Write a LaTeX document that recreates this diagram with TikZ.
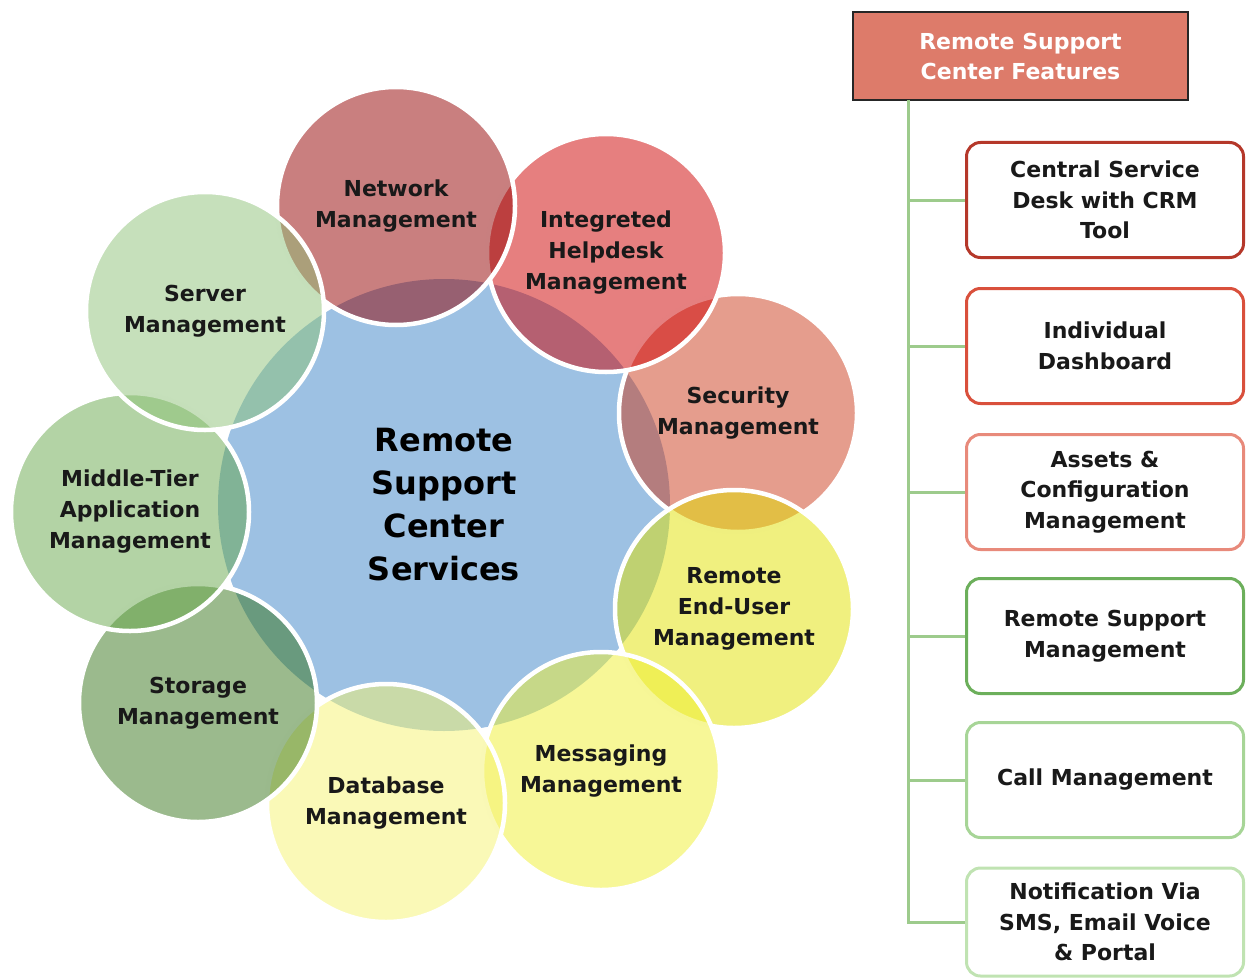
\documentclass[tikz,border=0pt]{standalone}
\usepackage{fontspec}
\setmainfont{DejaVu Sans}
\usepackage{tikz}

\definecolor{hubblue}{HTML}{9DC1E3}
\definecolor{netred}{HTML}{930000}
\definecolor{helpred}{HTML}{CD0000}
\definecolor{secred}{HTML}{CB3B1B}
\definecolor{userylw}{HTML}{E1E100}
\definecolor{msgylw}{HTML}{EFEF2F}
\definecolor{dbylw}{HTML}{F5F36F}
\definecolor{storgrn}{HTML}{37751B}
\definecolor{midgrn}{HTML}{67A74B}
\definecolor{srvgrn}{HTML}{8DC177}
\definecolor{headfill}{HTML}{DD7B6A}
\definecolor{stemgrn}{HTML}{9DCB8C}
\definecolor{deskline}{HTML}{B5382A}
\definecolor{dashline}{HTML}{D9503C}
\definecolor{assetline}{HTML}{E88A7B}
\definecolor{suppline}{HTML}{6CAF5B}
\definecolor{callline}{HTML}{A7D597}
\definecolor{notiline}{HTML}{C0E3B2}

\begin{document}
\begin{tikzpicture}[x=1pt,y=-1pt,
  hub/.style={circle,minimum size=452pt,inner sep=0pt,fill=hubblue,align=center,
    font=\bfseries\fontsize{32}{43}\selectfont},
  svc/.style={circle,minimum size=238pt,inner sep=0pt,draw=white,line width=4.5pt,
    fill opacity=0.5,text opacity=1,align=center,text=black!90,
    font=\bfseries\fontsize{22}{31}\selectfont},
  head/.style={rectangle,minimum width=335pt,minimum height=88pt,fill=headfill,
    draw=black!85,line width=2pt,text=white,align=center,
    font=\bfseries\fontsize{22}{30}\selectfont},
  feat/.style={rectangle,rounded corners=14pt,minimum width=277pt,minimum height=115pt,
    line width=3pt,fill=white,align=center,text=black!90,
    font=\bfseries\fontsize{22}{30.5}\selectfont},
  stem/.style={draw=stemgrn,line width=3pt}]
\useasboundingbox (0,0) rectangle (1247,979);

\node[hub] (rsc) at (444,505) {Remote\\Support\\Center\\Services};

\node[svc,fill=secred] (security) at (738,413) {Security\\Management};
\node[svc,fill=helpred] (helpdesk) at (606,253) {Integreted\\Helpdesk\\Management};
\node[svc,fill=netred] (network) at (396,206) {Network\\Management};
\node[svc,fill=userylw] (enduser) at (734,609) {Remote\\End-User\\Management};
\node[svc,fill=msgylw] (messaging) at (601,771) {Messaging\\Management};
\node[svc,fill=dbylw] (database) at (386,803) {Database\\Management};
\node[svc,fill=storgrn] (storage) at (198,703) {Storage\\Management};
\node[svc,fill=midgrn] (middletier) at (130,512) {Middle-Tier\\Application\\Management};
\node[svc,fill=srvgrn] (server) at (205,311) {Server\\Management};

\node[head] (features) at (1020.5,56) {Remote Support\\Center Features};
\coordinate (trunk) at (908,100);

\node[feat,draw=deskline] (desk) at (1105,200) {Central Service\\Desk with CRM\\Tool};
\node[feat,draw=dashline] (dashboard) at (1105,346) {Individual\\Dashboard};
\node[feat,draw=assetline] (assets) at (1105,492) {Assets \&\\Configuration\\Management};
\node[feat,draw=suppline] (support) at (1105,636) {Remote Support\\Management};
\node[feat,draw=callline] (calls) at (1105,780) {Call Management};
\node[feat,draw=notiline,minimum height=108pt] (notify) at (1105,922) {Notification Via\\SMS, Email Voice\\\& Portal};

\draw[stem] (trunk) |- (notify.west);
\draw[stem] (trunk |- desk.west) -- (desk.west);
\draw[stem] (trunk |- dashboard.west) -- (dashboard.west);
\draw[stem] (trunk |- assets.west) -- (assets.west);
\draw[stem] (trunk |- support.west) -- (support.west);
\draw[stem] (trunk |- calls.west) -- (calls.west);
\end{tikzpicture}
\end{document}
